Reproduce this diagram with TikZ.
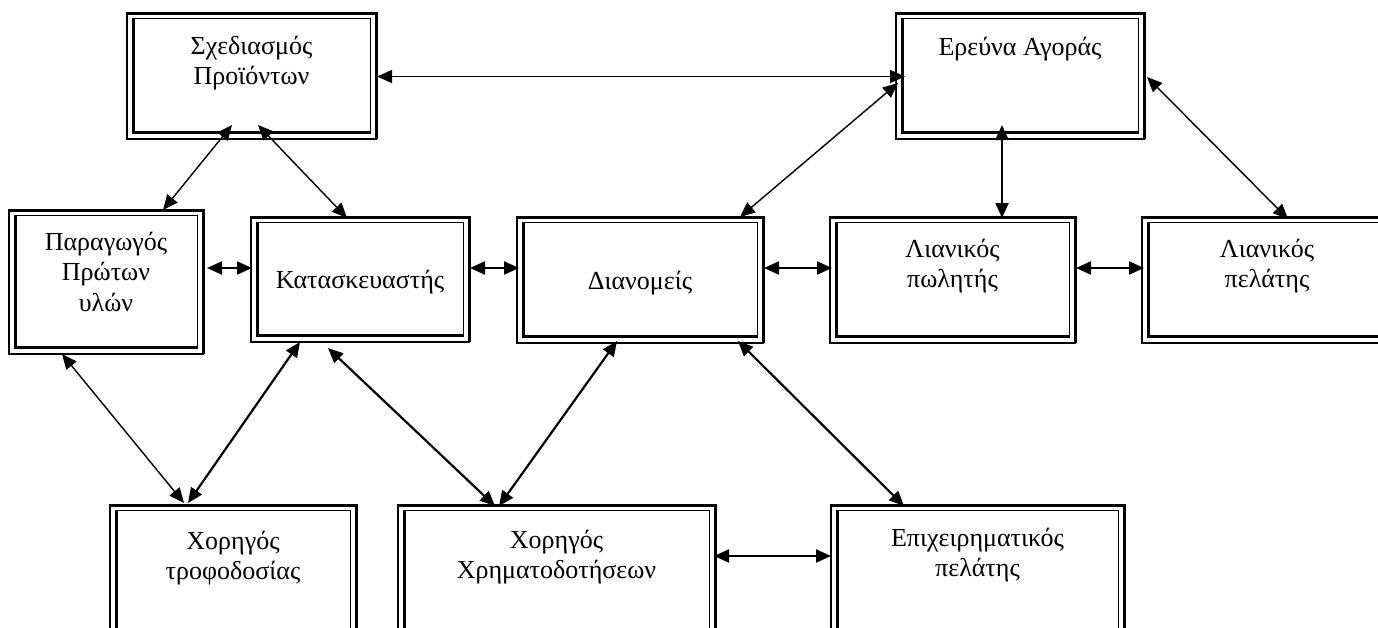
\documentclass[tikz,border=0pt]{standalone}
\usepackage{fontspec}
\setmainfont{Liberation Serif}
\usetikzlibrary{arrows.meta,calc}

\tikzset{
  boxarea/.style={rectangle, inner sep=0pt, outer sep=0pt, draw=none},
  thinrule/.style={line width=1.3pt},
  thickrule/.style={line width=3pt},
  lbl/.style={anchor=base, inner sep=0pt, font=\fontsize{26}{30.5}\selectfont},
  tip/.tip={Triangle[length=15pt,width=13pt]},
  link/.style={line width=1.4pt, {tip}-{tip}},
  heavy/.style={link, line width=2.2pt},
}

% name, left, top, right, bottom (y grows downwards)
\newcommand\framedbox[5]{%
  \node[boxarea, minimum width={(#4-#2)*1pt}, minimum height={(#5-#3)*1pt}]
    (#1) at ({(#2+#4)/2},{(#3+#5)/2}) {};
  \draw[thinrule] (#1.north west) rectangle (#1.south east);
  \draw[thickrule] (#1.north west) -- (#1.north east) -- (#1.south east);
  \draw[thinrule] ($(#1.north west)+(6.3,5.3)$) rectangle ($(#1.south east)+(-5.3,-6.3)$);
  \draw[thickrule] ($(#1.north west)+(6.3,5.3)$) -- ($(#1.south west)+(6.3,-6.3)$)
    -- ($(#1.south east)+(-5.3,-6.3)$);
}

\begin{document}
\begin{tikzpicture}[x=1pt, y=-1pt]
\useasboundingbox (0,0) rectangle (1378,627);
\fill[white] (0,0) rectangle (1378,627);
\clip (0,0) rectangle (1378,627);

% boxes
\framedbox{dsgn}{127}{13}{376}{139}
\framedbox{mres}{896}{13}{1144}{139}
\framedbox{prod}{9}{210}{203}{354}
\framedbox{manu}{251}{217}{469}{342}
\framedbox{dist}{517}{217}{763}{343}
\framedbox{rsel}{830}{217}{1075}{343}
\framedbox{rcus}{1142}{217}{1392}{343}
\framedbox{supp}{110}{505}{356}{650}
\framedbox{fund}{398}{505}{715}{650}
\framedbox{bcus}{831}{505}{1124}{650}

% labels
\node[lbl] (dsgnT) at ($(dsgn.north)+(0,41)$) {\begin{tabular}[t]{@{}c@{}}Σχεδιασμός\\Προϊόντων\end{tabular}};
\node[lbl] (mresT) at ($(mres.north)+(0,42)$) {Ερεύνα Αγοράς};
\node[lbl] (prodT) at ($(prod.north)+(0,40)$) {\begin{tabular}[t]{@{}c@{}}Παραγωγός\\Πρώτων\\υλών\end{tabular}};
\node[lbl] (manuT) at ($(manu.north)+(0,71)$) {Κατασκευαστής};
\node[lbl] (distT) at ($(dist.north)+(0,72)$) {Διανομείς};
\node[lbl] (rselT) at ($(rsel.north)+(0,40)$) {\begin{tabular}[t]{@{}c@{}}Λιανικός\\πωλητής\end{tabular}};
\node[lbl] (rcusT) at ($(rcus.north)+(0,40)$) {\begin{tabular}[t]{@{}c@{}}Λιανικός\\πελάτης\end{tabular}};
\node[lbl] (suppT) at ($(supp.north)+(0,44)$) {\begin{tabular}[t]{@{}c@{}}Χορηγός\\τροφοδοσίας\end{tabular}};
\node[lbl] (fundT) at ($(fund.north)+(0,43)$) {\begin{tabular}[t]{@{}c@{}}Χορηγός\\Χρηματοδοτήσεων\end{tabular}};
\node[lbl] (bcusT) at ($(bcus.north)+(0,41)$) {\begin{tabular}[t]{@{}c@{}}Επιχειρηματικός\\πελάτης\end{tabular}};

% connectors
\draw[link]  ($(dsgn.north east)+(1,63.5)$) -- ($(mres.north west)+(9,63.5)$);
\draw[link]  ($(mres.north west)+(2,70)$) -- ($(dist.north east)+(-23,0)$);
\draw[heavy] ($(mres.south west)+(106,-14)$) -- ($(rsel.north west)+(172,1)$);
\draw[link]  ($(mres.north east)+(3,64)$) -- ($(rcus.north west)+(146,2)$);
\draw[link]  ($(dsgn.south west)+(105,-14)$) -- ($(prod.north west)+(154,0)$);
\draw[link]  ($(dsgn.south west)+(131,-14)$) -- ($(manu.north west)+(96,1)$);
\draw[heavy] ($(prod.north east)+(4,58)$) -- ($(manu.north west)+(1,51)$);
\draw[heavy] ($(manu.north east)+(1,51)$) -- ($(dist.north west)+(2,51)$);
\draw[heavy] ($(dist.north east)+(1,51)$) -- ($(rsel.north west)+(2,51)$);
\draw[heavy] ($(rsel.north east)+(1,51)$) -- ($(rcus.north west)+(2,51)$);
\draw[link]  ($(prod.south west)+(53,0)$) -- ($(supp.north west)+(74,-2)$);
\draw[heavy] ($(manu.south west)+(49,0)$) -- ($(supp.north west)+(78,-2)$);
\draw[heavy] ($(manu.south west)+(77,6)$) -- ($(fund.north west)+(97,1)$);
\draw[heavy] ($(dist.south west)+(100,-2)$) -- ($(fund.north west)+(101,1)$);
\draw[heavy] ($(dist.south east)+(-25,-2)$) -- ($(bcus.north west)+(73,1)$);
\draw[heavy] ($(fund.north east)+(-1,51)$) -- ($(bcus.north west)+(0,51)$);
\end{tikzpicture}
\end{document}
